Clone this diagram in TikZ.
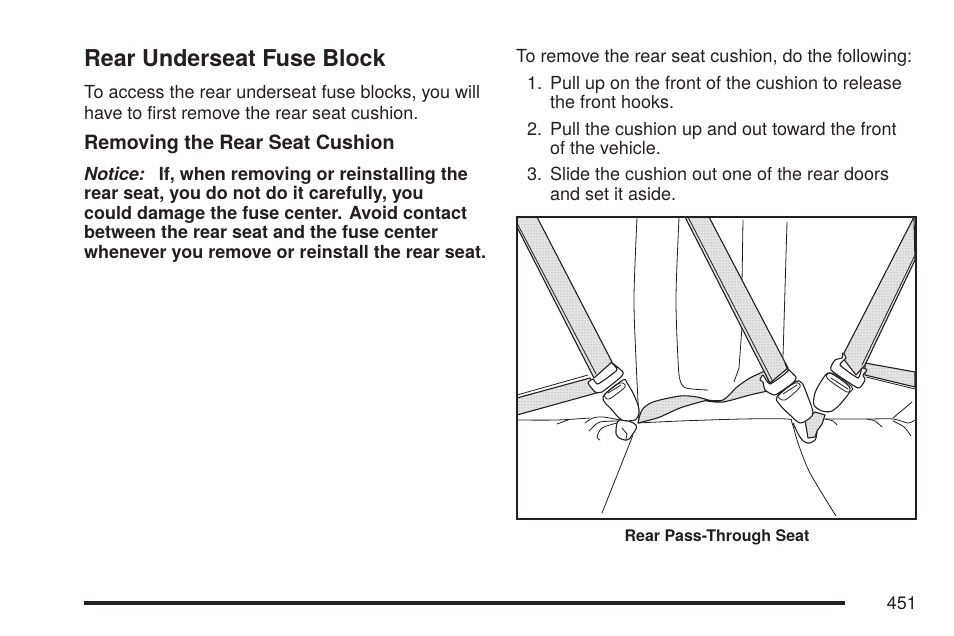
\documentclass[tikz,border=0pt]{standalone}
\usepackage{fontspec}
\setmainfont{TeX Gyre Heros}
\usetikzlibrary{patterns}
\definecolor{inkblack}{HTML}{231F20}
\tikzset{
  bodytext/.style={anchor=base west, inner sep=0pt, text=inkblack, font=\fontsize{18}{21}\selectfont},
  boldtext/.style={anchor=base west, inner sep=0pt, text=inkblack, font=\fontsize{18}{21}\selectfont\bfseries},
  inkline/.style={draw=inkblack, line width=1.1pt, line join=round, line cap=round},
  thinline/.style={draw=inkblack, line width=.8pt, line join=round, line cap=round},
  beltfill/.style={pattern=dots, pattern color=black!45, preaction={fill=black!10}},
  partfill/.style={inkline, fill=white}
}
\begin{document}
\begin{tikzpicture}[x=1pt,y=-1pt]
\useasboundingbox (0,0) rectangle (954,636);
% left column
\node[boldtext, font=\fontsize{23.2}{27}\selectfont\bfseries] (title) at (84,67) {Rear Underseat Fuse Block};
\node[bodytext] (accessa) at (84,99) {To access the rear underseat fuse blocks, you will};
\node[bodytext] (accessb) at (84,119.5) {have to first remove the rear seat cushion.};
\node[boldtext, font=\fontsize{19.7}{23}\selectfont\bfseries] (removing) at (84,150) {Removing the Rear Seat Cushion};
\node[boldtext] (noticea) at (84,181) {\textit{Notice:}\hspace{14pt}If, when removing or reinstalling the};
\node[boldtext] (noticeb) at (84,200) {rear seat, you do not do it carefully, you};
\node[boldtext] (noticec) at (84,220) {could damage the fuse center. Avoid contact};
\node[boldtext] (noticed) at (84,239) {between the rear seat and the fuse center};
\node[boldtext] (noticee) at (84,259) {whenever you remove or reinstall the rear seat.};
% right column
\node[bodytext] (intro) at (516,63) {To remove the rear seat cushion, do the following:};
\node[bodytext] (numa) at (527,90) {1.};
\node[bodytext] (stepa) at (550,90) {Pull up on the front of the cushion to release};
\node[bodytext] (stepaa) at (550,109) {the front hooks.};
\node[bodytext] (numb) at (527,136) {2.};
\node[bodytext] (stepb) at (550,136) {Pull the cushion up and out toward the front};
\node[bodytext] (stepbb) at (550,155) {of the vehicle.};
\node[bodytext] (numc) at (527,181) {3.};
\node[bodytext] (stepc) at (550,181) {Slide the cushion out one of the rear doors};
\node[bodytext] (stepcc) at (550,201) {and set it aside.};
% seat lines
\draw[thinline] plot[smooth] coordinates {(637,218) (634,297) (636,360) (639,420)};
\draw[thinline] plot[smooth, tension=.5] coordinates {(679,218) (676,297) (678,360) (680,380) (686,388) (708,390)};
\draw[thinline] (743,220) -- (742,283) -- (742,327) -- (739,368) -- (734,382);
\draw[thinline] (787,222) -- (783,357);
\draw[thinline] plot[smooth, tension=.5] coordinates {(517,420) (557,420) (590,418)};
\draw[thinline] (557,424) -- (568,420);
\draw[thinline] plot[smooth, tension=.5] coordinates {(638,423) (680,421) (743,419) (787,419) (792,423) (798,443) (810,473) (836,516)};
\draw[thinline] (633,435) -- (602,513);
\draw[thinline] plot[smooth, tension=.5] coordinates {(825,419) (867,419) (893,419) (908,423) (915,420)};
\draw[thinline] (893,418) -- (912,402);
\draw[thinline] plot[smooth] coordinates {(867,419) (875,421) (882,427)};
\draw[thinline] plot[smooth] coordinates {(893,421) (904,427) (911,436)};
\draw[thinline] plot[smooth] coordinates {(825,419) (833,421) (837,425)};
% creases at the left buckle
\draw[thinline] plot[smooth] coordinates {(620,420) (603,417) (593,418) (585,423)};
\draw[thinline] plot[smooth] coordinates {(620,421) (600,422) (592,428) (589,431)};
\draw[thinline] plot[smooth] coordinates {(617,423) (602,428) (597,437) (600,440)};
\draw[partfill] plot[smooth cycle, tension=.7] coordinates {(620,420) (616,430) (618,437) (627,440) (632,435) (636,425)};
\draw[thinline] (622,428) -- (627,434) -- (626,439);
% side straps
\draw[inkline, beltfill] (517,398) -- (590,378) -- (600,392) -- (517,415) -- cycle;
\draw[thinline] (517,395) -- (588,375);
\draw[inkline, beltfill] (865,363) -- (915,372) -- (915,387) -- (865,375) -- cycle;
\draw[thinline] (866,377) -- (915,389);
% pulled strap
\draw[inkline, beltfill] plot[smooth, tension=.5] coordinates {(638,423) (642,410) (653,402) (680,396) (697,397) (708,400)} -- plot[smooth, tension=.5] coordinates {(700,402) (680,408) (660,417) (650,420) (638,423)};
\draw[inkline, beltfill] plot[smooth, tension=.5] coordinates {(707,400) (723,400) (737,387) (750,378) (765,371)} -- plot[smooth, tension=.5] coordinates {(772,390) (750,395) (723,402) (707,401)} -- cycle;
% shoulder belts
\draw[inkline, beltfill] (537,217) -- (612,362) -- (594,378) -- (517,227) -- (517,217) -- cycle;
\draw[thinline] (517,223) -- (596,374);
\draw[inkline, beltfill] (709,217) -- (788,368) -- (770,383) -- (685,217) -- cycle;
\draw[thinline] (688,217) -- (773,382);
\draw[inkline, beltfill] (914,217) -- (842,357) -- (856,375) -- (865,365) -- (915,260) -- cycle;
\draw[thinline] (915,255) -- (862,365);
% left buckle
\draw[partfill] plot[smooth cycle, tension=.3] coordinates {(611,362) (623,372) (621,377) (602,392) (595,392) (588,383) (593,379) (598,384) (617,370)};
\draw[partfill] plot[smooth cycle, tension=.5] coordinates {(603,397) (623,380) (627,383) (633,393) (638,405) (639,413) (635,420) (622,420) (612,410)};
\draw[thinline] plot[smooth cycle, tension=.5] coordinates {(605,394) (620,383) (625,387) (609,399)};
\draw[thinline] (608,393) -- (621,385);
% centre buckle
\draw[partfill] plot[smooth cycle, tension=.3] coordinates {(785,363) (787,368) (796,377) (793,383) (775,395) (765,390) (763,382) (760,380) (763,375) (770,384) (788,371)};
\draw[inkline, beltfill] (805,420) -- (815,412) -- (825,415) -- (822,424) -- (817,431) -- (815,437) -- (808,438) -- cycle;
\draw[inkline] plot[smooth, tension=.6] coordinates {(793,423) (800,437) (807,443) (815,440) (817,432)};
\draw[partfill] plot[smooth cycle, tension=.5] coordinates {(777,397) (795,382) (802,383) (808,397) (813,412) (810,418) (800,423) (790,415) (780,405)};
\draw[thinline] plot[smooth cycle, tension=.5] coordinates {(778,395) (795,383) (800,387) (785,400)};
\draw[thinline] (783,394) -- (797,385);
% right buckle
\draw[partfill] plot[smooth cycle, tension=.3] coordinates {(843,353) (842,358) (835,360) (831,370) (858,388) (865,380) (863,375) (867,370) (862,368) (858,378) (840,365) (846,358)};
\draw[partfill] plot[smooth cycle, tension=.5] coordinates {(830,373) (850,388) (842,402) (832,411) (822,411) (814,405) (815,393) (822,380)};
\draw[thinline] plot[smooth cycle, tension=.5] coordinates {(827,378) (832,373) (852,387) (847,392)};
\draw[thinline] (831,378) -- (848,389);
% frame, caption, foot
\node[draw=inkblack, line width=2pt, inner sep=0pt, outer sep=0pt, minimum width=399pt, minimum height=302pt, anchor=north west] (photoframe) at (517,217) {};
\node[boldtext, anchor=base, font=\fontsize{16}{19}\selectfont\bfseries] (caption) at (717,541) {Rear Pass-Through Seat};
\coordinate (ruleleft) at (84,603);
\coordinate (ruleright) at (845,603);
\draw[inkblack, line width=3.4pt] (ruleleft) -- (ruleright);
\node[bodytext, anchor=base east] (pagenum) at (917,609) {451};
\end{tikzpicture}
\end{document}
